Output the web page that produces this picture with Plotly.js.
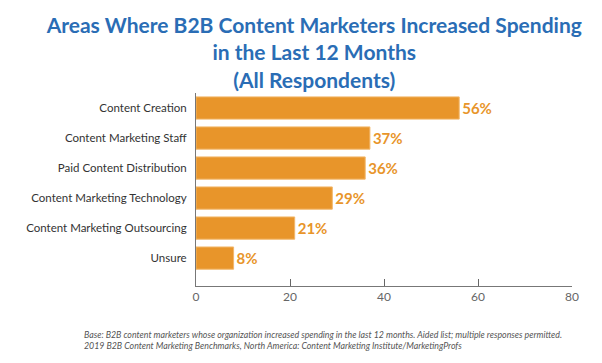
<!DOCTYPE html>
<html>
<head>
<meta charset="utf-8">
<script src="https://cdn.plot.ly/plotly-3.0.1.min.js"></script>
<style>html,body{margin:0;padding:0;background:#fff;}#chart{width:602px;height:363px;}</style>
</head>
<body>
<div id="chart"></div>
<script>
const categories = [
  "Content Creation",
  "Content Marketing Staff",
  "Paid Content Distribution",
  "Content Marketing Technology",
  "Content Marketing Outsourcing",
  "Unsure"
];
const values = [56, 37, 36, 29, 21, 8];
const xTicks = [0, 20, 40, 60, 80];
const titleText = "Areas Where B2B Content Marketers Increased Spending<br>in the Last 12 Months<br>(All Respondents)";
const footnoteText = "Base: B2B content marketers whose organization increased spending in the last 12 months. Aided list; multiple responses permitted.<br>2019 B2B Content Marketing Benchmarks, North America: Content Marketing Institute/MarketingProfs";

const orange = "#E8952A";
const trace = {
  type: "bar",
  orientation: "h",
  y: categories,
  x: values,
  marker: { color: orange, line: { color: "#F2B76A", width: 1 } },
  text: values.map(v => v + "%"),
  textposition: "outside",
  textfont: { family: "Lato", size: 15, color: orange, weight: "bold" },
  cliponaxis: false,
  hoverinfo: "none"
};

const layout = {
  width: 602, height: 363,
  margin: { l: 196, r: 30, t: 93, b: 77, pad: 0 },
  paper_bgcolor: "#fff", plot_bgcolor: "#fff",
  showlegend: false,
  bargap: 0.26,
  font: { family: "Lato", color: "#333" },
  title: {
    text: "<b>" + titleText + "</b>",
    font: { family: "Lato", size: 21, color: "#2A6DB5" },
    x: 0.522, xanchor: "center", xref: "container",
    y: 1 - 33 / 363, yanchor: "top", yref: "container"
  },
  xaxis: {
    range: [0, 80],
    tickvals: xTicks,
    ticktext: xTicks.map(String),
    ticks: "inside", ticklen: 7, tickcolor: "#666", tickwidth: 1,
    showline: true, linecolor: "#777", linewidth: 1,
    showgrid: false, zeroline: false,
    tickfont: { family: "Lato", size: 12, color: "#666" },
    fixedrange: true
  },
  yaxis: {
    type: "category",
    range: [5.93, -0.5],
    showline: true, linecolor: "#777", linewidth: 1,
    showgrid: false, zeroline: false,
    ticks: "", ticklabelstandoff: 6,
    tickfont: { family: "Lato", size: 11.5, color: "#333" },
    fixedrange: true
  },
  annotations: [{
    text: "<i>" + footnoteText + "</i>",
    xref: "paper", yref: "paper",
    x: (82 - 196) / 376, y: -(327 - 286) / 193,
    xanchor: "left", yanchor: "top", align: "left",
    showarrow: false,
    font: { family: "Lato", size: 8.8, color: "#555" }
  }]
};

Plotly.newPlot("chart", [trace], layout, { displayModeBar: false, staticPlot: true });
</script>
</body>
</html>
